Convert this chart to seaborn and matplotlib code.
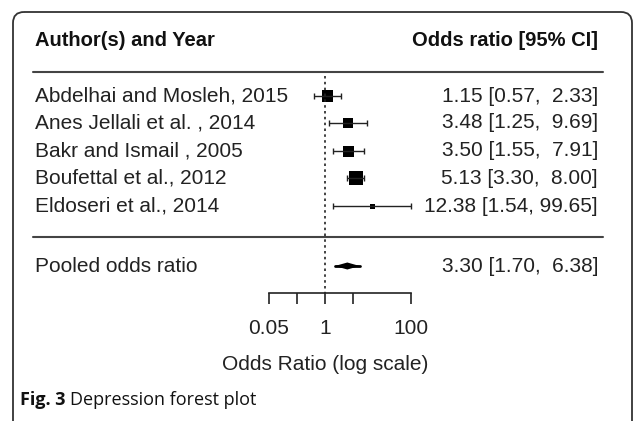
import numpy as np
import pandas as pd
import matplotlib
matplotlib.use("Agg")
import matplotlib.pyplot as plt
from matplotlib.patches import FancyBboxPatch
import seaborn as sns

# --- data ---
studies = ["Abdelhai and Mosleh, 2015", "Anes Jellali et al. , 2014",
           "Bakr and Ismail , 2005", "Boufettal et al., 2012",
           "Eldoseri et al., 2014"]
odds = [1.15, 3.48, 3.50, 5.13, 12.38]
lower = [0.57, 1.25, 1.55, 3.30, 1.54]
upper = [2.33, 9.69, 7.91, 8.00, 99.65]
weights = [11.5, 10.0, 11.0, 14.0, 5.0]   # relative box size in the plot
pooled_or, pooled_lo, pooled_hi = 3.30, 1.70, 6.38
tick_vals = [0.05, np.exp(-1.5), 1, np.exp(1.5), 100]
tick_labels = ["0.05", "", "1", "", "100"]

W, H = 635, 421
row_y = [96, 123, 151, 178, 206]
pooled_y = 266
axis_y = 293
FS = 15

df = pd.DataFrame({"study": studies, "or": odds, "lo": lower, "hi": upper,
                   "w": weights, "y": row_y})

sns.set_style("white")
plt.rcParams["font.family"] = ["Liberation Sans", "DejaVu Sans"]

fig = plt.figure(figsize=(W / 100, H / 100), dpi=100)
frame = fig.add_axes([0, 0, 1, 1])
frame.set_xlim(0, W)
frame.set_ylim(H, 0)
frame.axis("off")

ax = fig.add_axes([0, 0, 1, 1], sharey=frame)
ax.patch.set_alpha(0)
ax.set_xscale("log")
px_per_ln = 18.7
x1 = 325
ax.set_xlim(np.exp(-x1 / px_per_ln), np.exp((W - x1) / px_per_ln))
ax.set_ylim(H, 0)

# outer rounded frame
box = FancyBboxPatch((13, 12), 619, 430, boxstyle="round,pad=0,rounding_size=11",
                     fill=False, edgecolor="#333333", linewidth=1.3, clip_on=True)
frame.add_patch(box)

# header
frame.text(35, 40, "Author(s) and Year", fontsize=14.5, fontweight="bold",
           ha="left", va="center", color="#111111")
frame.text(598, 40, "Odds ratio [95% CI]", fontsize=14.5, fontweight="bold",
           ha="right", va="center", color="#111111")
frame.plot([33, 603], [72, 72], color="#444444", lw=1.5)
frame.plot([33, 603], [237, 237], color="#444444", lw=1.5)

# study labels and CI text
for _, r in df.iterrows():
    frame.text(35, r["y"], r["study"], fontsize=FS, ha="left", va="center",
               color="#222222")
    frame.text(598, r["y"], f"{r['or']:.2f} [{r['lo']:.2f}, {r['hi']:5.2f}]",
               fontsize=FS, ha="right", va="center", color="#222222")
frame.text(35, pooled_y, "Pooled odds ratio", fontsize=FS, ha="left",
           va="center", color="#222222")
frame.text(598, pooled_y, f"{pooled_or:.2f} [{pooled_lo:.2f}, {pooled_hi:5.2f}]",
           fontsize=FS, ha="right", va="center", color="#222222")

# reference line at 1
ax.plot([1, 1], [76, axis_y], color="#222222", lw=1.2, ls=(0, (1.5, 2)))

# CI whiskers
ax.errorbar(df["or"], df["y"], xerr=[df["or"] - df["lo"], df["hi"] - df["or"]],
            fmt="none", ecolor="#222222", elinewidth=1, capsize=2.4, capthick=1)

# boxes
size_map = {w: (w * 0.72) ** 2 for w in weights}
sns.scatterplot(data=df, x="or", y="y", size="w", sizes=size_map, marker="s",
                color="black", edgecolor="black", linewidth=0, legend=False, ax=ax)

# pooled diamond
ax.fill([pooled_lo, pooled_or, pooled_hi, pooled_or],
        [pooled_y, pooled_y - 3.5, pooled_y, pooled_y + 3.5], color="black", lw=0)
ax.plot([pooled_lo, pooled_hi], [pooled_y, pooled_y], color="black", lw=2)

# x axis
for s in ["top", "right", "left"]:
    ax.spines[s].set_visible(False)
ax.spines["bottom"].set_position(("data", axis_y))
ax.spines["bottom"].set_bounds(tick_vals[0], tick_vals[-1])
ax.spines["bottom"].set_color("#222222")
ax.spines["bottom"].set_linewidth(1.2)
ax.set_xticks(tick_vals)
ax.set_xticklabels(tick_labels)
ax.xaxis.set_minor_locator(matplotlib.ticker.NullLocator())
ax.tick_params(axis="x", direction="out", length=8, width=1.2, color="#222222",
               labelsize=FS, pad=11, labelcolor="#222222", bottom=True)
ax.set_yticks([])
ax.set_ylabel("")
ax.set_xlabel("")

frame.text(325, 365, "Odds Ratio (log scale)", fontsize=FS, ha="center",
           va="center", color="#222222")

# caption
frame.text(20, 400, "Fig. 3", fontsize=13, fontweight="bold", ha="left",
           va="center", family=["Open Sans", "DejaVu Sans"], color="#111111")
frame.text(70, 400, "Depression forest plot", fontsize=13, ha="left",
           va="center", family=["Open Sans", "DejaVu Sans"], color="#111111")

fig.savefig("out.png", dpi=100)
